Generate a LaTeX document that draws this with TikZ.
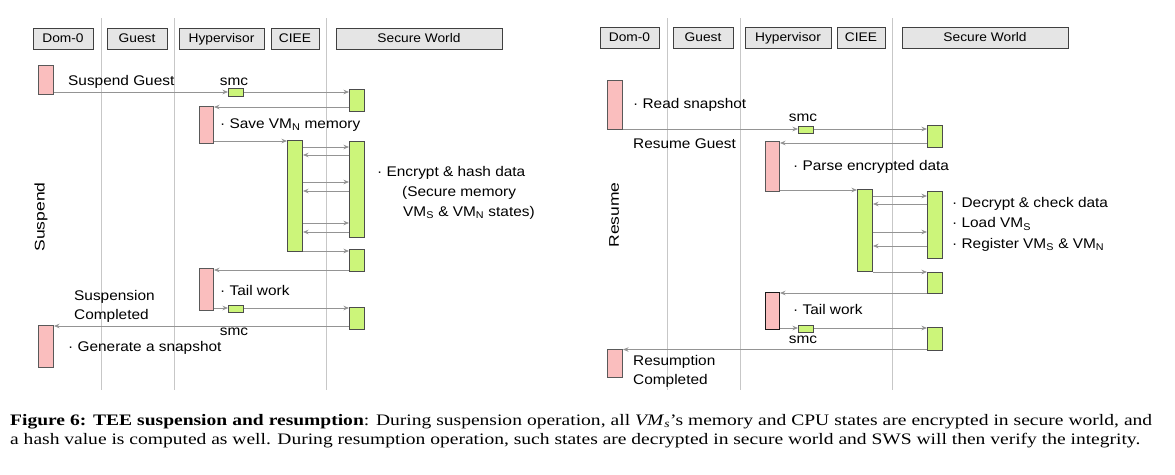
\documentclass[tikz,border=0pt]{standalone}
\usepackage{fontspec}
\setmainfont[FakeStretch=1.22]{Liberation Serif}
\setsansfont[FakeStretch=1.1]{Liberation Sans}
\newfontfamily\rotfont[FakeStretch=1.25]{Liberation Sans}
\usetikzlibrary{arrows.meta}
\definecolor{pinkf}{RGB}{250,190,190}
\definecolor{greenf}{RGB}{204,245,122}
\newcommand\abox[6]{\node[#1, minimum width={#5-#3}, minimum height={#6-#4}, anchor=north west] (#2) at (#3,#4) {};}
\newcommand\msgline[3]{\draw[msg] (#1 |- 0,#3) -- (#2 |- 0,#3);}
\begin{document}
\begin{tikzpicture}[x=1pt,y=-1pt,
  hdr/.style={draw=black!75, fill=black!10, line width=1pt, inner sep=0pt, minimum height=21pt, text height=9pt, text depth=2pt, font=\sffamily\fontsize{12.5}{14}\selectfont},
  pbar/.style={draw=black!65, fill=pinkf, line width=1pt, inner sep=0pt},
  gbar/.style={draw=black!70, fill=greenf, line width=1pt, inner sep=0pt},
  msg/.style={draw=black!42, line width=0.8pt, -{Stealth[length=5.5pt,width=4.5pt]}},
  life/.style={draw=black!22, line width=0.9pt},
  lbl/.style={inner sep=0pt, anchor=west, font=\sffamily\fontsize{14}{16}\selectfont},
  clbl/.style={inner sep=0pt, font=\sffamily\fontsize{14}{16}\selectfont},
  rlbl/.style={inner sep=0pt, rotate=90, font=\rotfont\fontsize{14}{16}\selectfont},
  captxt/.style={inner sep=0pt, anchor=base west, font=\rmfamily\fontsize{16}{19}\selectfont}]
\fill[white] (0,0) rectangle (1175,474);
\useasboundingbox (0,0) rectangle (1175,474);
% lifelines
\foreach \lx in {101,174,326,667,740,892} \draw[life] (\lx,18) -- (\lx,390);
% ---------------- LEFT: suspend ----------------
\node[hdr,minimum width=60pt] (lh1) at (63,38.5) {Dom-0};
\node[hdr,minimum width=60pt] (lh2) at (137,38.5) {Guest};
\node[hdr,minimum width=85pt] (lh3) at (221.5,38.5) {Hypervisor};
\node[hdr,minimum width=48pt] (lh4) at (295,38.5) {CIEE};
\node[hdr,minimum width=166pt] (lh5) at (419,38.5) {Secure World};

\abox{pbar}{ld1}{38}{65}{53}{94}
\abox{gbar}{lsmc1}{228}{88}{243}{96}
\abox{gbar}{lsw1}{349}{89}{364}{111}
\abox{pbar}{lhv1}{199}{106}{213}{143}
\abox{gbar}{lciee}{287}{140}{302}{251}
\abox{gbar}{lsw2}{349}{141}{364}{237}
\abox{gbar}{lsw3}{349}{249}{364}{271}
\abox{pbar}{lhv2}{199}{268}{213}{310}
\abox{gbar}{lsmc2}{228}{305}{243}{312}
\abox{gbar}{lsw4}{349}{307}{364}{329}
\abox{pbar}{ld2}{38}{325}{53}{367}

\msgline{ld1.east}{lsmc1.west}{92}
\msgline{lsmc1.east}{lsw1.west}{92}
\msgline{lsw1.west}{lhv1.east}{107}
\msgline{lhv1.east}{lciee.west}{141}
\msgline{lciee.east}{lsw2.west}{147}
\msgline{lsw2.west}{lciee.east}{155}
\msgline{lciee.east}{lsw2.west}{182}
\msgline{lsw2.west}{lciee.east}{191}
\msgline{lciee.east}{lsw2.west}{223}
\msgline{lsw2.west}{lciee.east}{232}
\msgline{lciee.east}{lsw3.west}{251}
\msgline{lsw3.west}{lhv2.east}{270}
\msgline{lhv2.east}{lsmc2.west}{308}
\msgline{lsmc2.east}{lsw4.west}{308}
\msgline{lsw4.west}{ld2.east}{326}

\node[lbl] (lt1) at (68,82) {Suspend Guest};
\node[clbl] (lt2) at (234,82) {smc};
\node[lbl] (lt3) at (220,125) {· Save VM\textsubscript{N} memory};
\node[lbl] (lt4) at (377,173) {· Encrypt \& hash data};
\node[lbl] (lt5) at (402,193) {(Secure memory};
\node[lbl] (lt6) at (403,213) {VM\textsubscript{S} \& VM\textsubscript{N} states)};
\node[lbl] (lt7) at (220,290) {· Tail work};
\node[lbl] (lt8) at (74,297) {Suspension};
\node[lbl] (lt9) at (74,316) {Completed};
\node[clbl] (lt10) at (234,332) {smc};
\node[lbl] (lt11) at (68,348) {· Generate a snapshot};
\node[rlbl] (lt12) at (41,217) {Suspend};

% ---------------- RIGHT: resume ----------------
\node[hdr,minimum width=59pt] (rh1) at (629.5,37.5) {Dom-0};
\node[hdr,minimum width=60pt] (rh2) at (703,37.5) {Guest};
\node[hdr,minimum width=86pt] (rh3) at (788,37.5) {Hypervisor};
\node[hdr,minimum width=48pt] (rh4) at (861,37.5) {CIEE};
\node[hdr,minimum width=166pt] (rh5) at (985,37.5) {Secure World};

\abox{pbar}{rd1}{607}{80}{622}{129}
\abox{gbar}{rsmc1}{798}{126}{813}{133}
\abox{gbar}{rsw1}{927}{125}{942}{147}
\abox{pbar}{rhv1}{765}{141}{779}{191}
\abox{gbar}{rciee}{857}{189}{872}{271}
\abox{gbar}{rsw2}{927}{191}{942}{258}
\abox{gbar}{rsw3}{927}{272}{942}{293}
\abox{pbar,draw=black!90}{rhv2}{765}{292}{779}{329}
\abox{gbar}{rsmc2}{798}{325}{813}{332}
\abox{gbar}{rsw4}{927}{327}{942}{350}
\abox{pbar}{rd2}{607}{349}{622}{377}

\msgline{rd1.east}{rsmc1.west}{129}
\msgline{rsmc1.east}{rsw1.west}{129}
\msgline{rsw1.west}{rhv1.east}{143}
\msgline{rhv1.east}{rciee.west}{190}
\msgline{rciee.east}{rsw2.west}{196}
\msgline{rsw2.west}{rciee.east}{204}
\msgline{rciee.east}{rsw2.west}{232}
\msgline{rsw2.west}{rciee.east}{246}
\msgline{rciee.east}{rsw3.west}{272}
\msgline{rsw3.west}{rhv2.east}{293}
\msgline{rhv2.east}{rsmc2.west}{328}
\msgline{rsmc2.east}{rsw4.west}{328}
\msgline{rsw4.west}{rd2.east}{349.5}

\node[lbl] (rt1) at (633,105) {· Read snapshot};
\node[clbl] (rt2) at (803,118) {smc};
\node[lbl] (rt3) at (633,144) {Resume Guest};
\node[lbl] (rt4) at (793,167) {· Parse encrypted data};
\node[lbl] (rt5) at (952,204) {· Decrypt \& check data};
\node[lbl] (rt6) at (952,224) {· Load VM\textsubscript{S}};
\node[lbl] (rt7) at (952,245) {· Register VM\textsubscript{S} \& VM\textsubscript{N}};
\node[lbl] (rt8) at (793,309) {· Tail work};
\node[clbl] (rt9) at (803,340) {smc};
\node[lbl] (rt10) at (633,362) {Resumption};
\node[lbl] (rt11) at (633,381) {Completed};
\node[rlbl] (rt12) at (614,215) {Resume};

% ---------------- caption ----------------
\node[captxt] (cap1) at (10,425) {\makebox[1142pt][s]{\textbf{Figure 6: TEE suspension and resumption}: During suspension operation, all \textit{VM}\textsubscript{\textit{s}}’s memory and CPU states are encrypted in secure world, and}};
\node[captxt] (cap2) at (10,444) {a hash value is computed as well. During resumption operation, such states are decrypted in secure world and SWS will then verify the integrity.};
\end{tikzpicture}
\end{document}
